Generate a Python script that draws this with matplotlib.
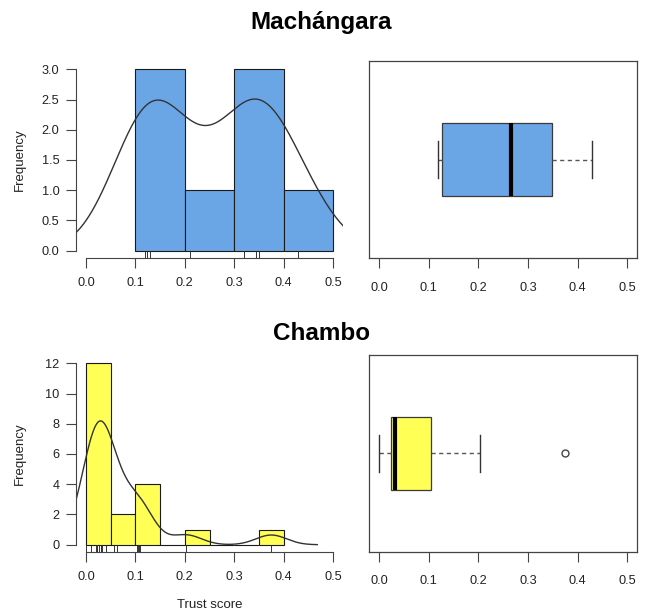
import numpy as np
import matplotlib
matplotlib.use("Agg")
import matplotlib.pyplot as plt
import matplotlib.transforms as mtransforms

plt.rcParams['font.family'] = ['Liberation Sans', 'DejaVu Sans']

# ---- data ----
titles = ["Machángara", "Chambo"]
machangara = [0.119, 0.123, 0.130, 0.210, 0.320, 0.345, 0.350, 0.429]
chambo = [0.000, 0.011, 0.020, 0.022, 0.023, 0.023, 0.027, 0.030, 0.030, 0.031,
          0.033, 0.040, 0.057, 0.062, 0.103, 0.105, 0.108, 0.110, 0.203, 0.375]
bins_m = [0.1, 0.2, 0.3, 0.4, 0.5]
bins_c = [0.0, 0.05, 0.10, 0.15, 0.20, 0.25, 0.30, 0.35, 0.40]
bandwidths = [0.073, 0.031]
yticks_m = [0.0, 0.5, 1.0, 1.5, 2.0, 2.5, 3.0]
yticks_c = [0, 2, 4, 6, 8, 10, 12]
xticks = [0.0, 0.1, 0.2, 0.3, 0.4, 0.5]
colors = ["#6aa6e6", "#ffff55"]

W, H = 647, 616
fig = plt.figure(figsize=(W / 100, H / 100), dpi=100)

def frac(l, t, r, b):
    return [l / W, 1 - b / H, (r - l) / W, (b - t) / H]

axcol = "#444444"
txtcol = "#222222"


def fivenum(x):
    x = np.sort(np.asarray(x, float))
    n = len(x)
    n4 = np.floor((n + 3) / 2) / 2
    d = np.array([1, n4, (n + 1) / 2, n + 1 - n4, n]) - 1
    return 0.5 * (x[np.floor(d).astype(int)] + x[np.ceil(d).astype(int)])


def kde(x, bw):
    x = np.asarray(x, float)
    g = np.linspace(x.min() - 3 * bw, x.max() + 3 * bw, 512)
    d = np.exp(-0.5 * ((g[:, None] - x[None, :]) / bw) ** 2).sum(1) / (len(x) * bw * np.sqrt(2 * np.pi))
    return g, d


def style_ticks(ax):
    ax.tick_params(axis='both', colors=axcol, labelcolor=txtcol, labelsize=9.2,
                   length=7, width=0.8)
    ax.tick_params(axis='x', pad=7)
    ax.tick_params(axis='y', pad=5)


def hist_panel(ax, data, bins, bw, color, yticks, fmt, xlabel=None):
    ax.hist(data, bins=bins, color=color, edgecolor="#1a1a1a", linewidth=0.8)
    g, d = kde(data, bw)
    ax.plot(g, d, color="#333333", lw=1.0)
    trans = mtransforms.blended_transform_factory(ax.transData, ax.transAxes)
    ax.vlines(data, 0, 0.035, transform=trans, color="#333333", lw=0.7)
    yr = yticks[-1] - yticks[0]
    ax.set_xlim(-0.02, 0.52)
    ax.set_ylim(yticks[0] - 0.04 * yr, yticks[-1] + 0.04 * yr)
    ax.set_xticks(xticks)
    ax.set_xticklabels([f"{v:.1f}" for v in xticks])
    ax.set_yticks(yticks)
    ax.set_yticklabels([fmt.format(v) for v in yticks])
    for s in ["top", "right"]:
        ax.spines[s].set_visible(False)
    ax.spines["left"].set_bounds(yticks[0], yticks[-1])
    ax.spines["bottom"].set_bounds(0.0, 0.5)
    for s in ["left", "bottom"]:
        ax.spines[s].set_color(axcol)
        ax.spines[s].set_linewidth(0.8)
    style_ticks(ax)
    ax.set_ylabel("Frequency", fontsize=9.5, color=txtcol)
    ax.yaxis.set_label_coords(-50 / 267, 0.5)
    if xlabel:
        ax.set_xlabel(xlabel, fontsize=9.5, color=txtcol)
        ax.xaxis.set_label_coords(0.5, -47 / 196)


def box_panel(ax, data, color):
    q = fivenum(data)
    iqr = q[3] - q[1]
    arr = np.asarray(data)
    inside = arr[(arr >= q[1] - 1.5 * iqr) & (arr <= q[3] + 1.5 * iqr)]
    fl = arr[(arr < q[1] - 1.5 * iqr) | (arr > q[3] + 1.5 * iqr)]
    stats = [dict(med=q[2], q1=q[1], q3=q[3], whislo=inside.min(), whishi=inside.max(), fliers=fl)]
    ax.bxp(stats, positions=[1], widths=0.4, capwidths=0.2, vert=False, patch_artist=True,
           boxprops=dict(facecolor=color, edgecolor="#3a3a3a", linewidth=0.9),
           medianprops=dict(color="black", linewidth=3, solid_capstyle='butt'),
           whiskerprops=dict(color="#555555", linestyle=(0, (3, 2.5)), linewidth=1.0),
           capprops=dict(color="#333333", linewidth=1.0),
           flierprops=dict(marker='o', markersize=5, markerfacecolor='none',
                           markeredgecolor="#444444", markeredgewidth=1.0))
    ax.set_xlim(-0.02, 0.52)
    ax.set_ylim(0.46, 1.54)
    ax.set_yticks([])
    ax.set_xticks(xticks)
    ax.set_xticklabels([f"{v:.1f}" for v in xticks])
    for s in ax.spines.values():
        s.set_color(axcol)
        s.set_linewidth(0.9)
    style_ticks(ax)
    ax.tick_params(axis='x', pad=10)


ax1 = fig.add_axes(frac(76, 62, 343, 258))
hist_panel(ax1, machangara, bins_m, bandwidths[0], colors[0], yticks_m, "{:.1f}")
ax2 = fig.add_axes(frac(369.3, 61, 637.3, 258.3))
box_panel(ax2, machangara, colors[0])

ax3 = fig.add_axes(frac(76, 356, 343, 552))
hist_panel(ax3, chambo, bins_c, bandwidths[1], colors[1], yticks_c, "{:d}", xlabel="Trust score")
ax4 = fig.add_axes(frac(369.3, 355, 637.3, 551.7))
box_panel(ax4, chambo, colors[1])

fig.text(321 / W, 1 - 22 / H, titles[0], ha='center', va='center', fontsize=17.5,
         fontweight='bold', color='black')
fig.text(322 / W, 1 - 333 / H, titles[1], ha='center', va='center', fontsize=17.5,
         fontweight='bold', color='black')

fig.savefig("out.png", dpi=100)
